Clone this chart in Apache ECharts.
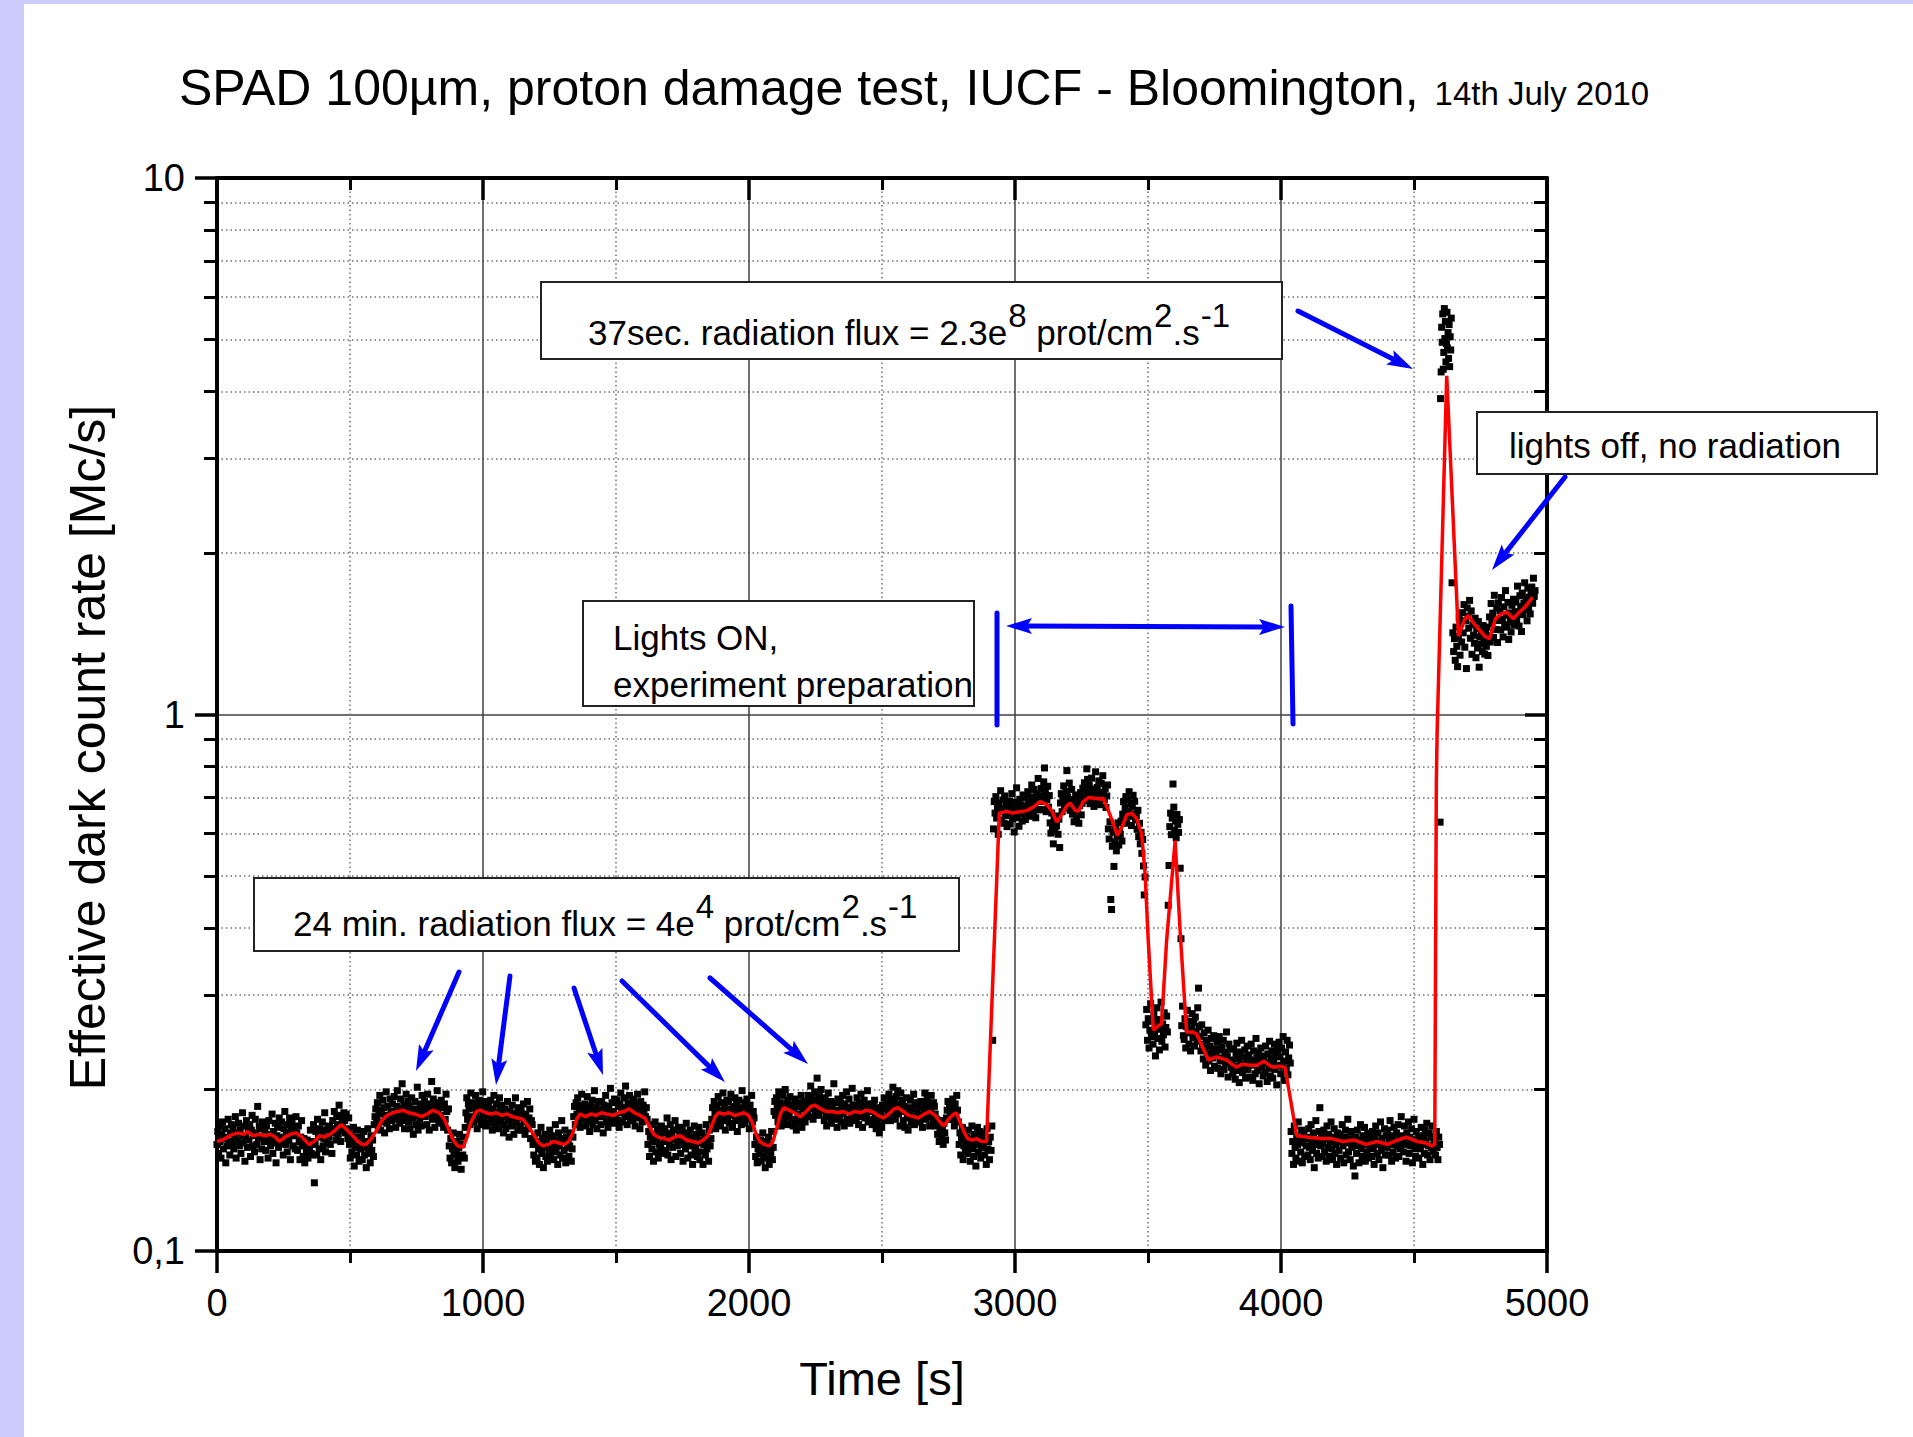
<!DOCTYPE html>
<html>
<head>
<meta charset="utf-8">
<title>SPAD 100µm proton damage test</title>
<script src="https://cdn.jsdelivr.net/npm/echarts@6/dist/echarts.min.js"></script>
<style>
html,body{margin:0;padding:0;background:#fff;}
#chart{width:1913px;height:1437px;}
</style>
</head>
<body>
<div id="chart"></div>
<script>
// ================= DATA =================
// Acquisition blocks: first sample time [s] and sample step [s]
const blockStartSec = [0, 2916, 4038, 4598, 4643];
const blockStepSec  = [3, 3, 3, 2, 3];

// Effective dark count rate, in kc/s (divide by 1000 for Mc/s)
const rateA_kcps = [ // 0 .. 2913 s
158,167,152,171,160,149,165,174,155,162,169,146,163,157,176,160,151,166,172,159,
170,155,162,178,149,166,160,173,157,168,152,164,181,159,171,147,163,175,156,167,
161,172,150,168,179,157,164,153,176,166,158,186,162,171,148,169,155,174,163,160,
168,154,171,160,149,175,165,157,162,180,152,167,159,173,146,164,170,156,177,161,
159,174,163,151,169,182,158,166,153,172,161,177,148,167,175,157,164,170,155,178,
166,154,171,160,148,163,175,157,150,162,146,158,153,161,149,160,155,168,152,151,
160,172,134,158,167,151,176,163,155,169,148,165,174,157,162,181,153,168,159,171,
163,170,158,167,152,175,166,182,169,161,178,172,165,187,170,160,179,174,168,181,
175,166,180,169,162,177,158,149,165,153,161,170,144,157,163,151,168,156,147,162,
155,163,148,159,167,151,156,143,160,169,152,158,146,164,154,161,150,172,178,184,
176,189,171,183,195,168,180,174,191,185,166,179,198,173,186,177,169,192,182,175,
188,176,194,181,170,186,199,178,184,173,192,180,205,175,187,169,183,196,179,190,
174,186,169,181,193,177,165,184,190,172,179,202,168,183,176,188,171,195,180,185,
190,178,185,172,196,183,168,188,181,207,176,192,184,170,189,178,199,182,174,187,
179,191,173,185,170,188,176,196,182,168,184,157,149,162,146,155,166,151,143,158,
153,160,147,156,165,150,142,158,151,163,149,170,181,193,176,188,184,172,197,185,
178,189,174,186,195,181,169,184,191,176,187,172,183,198,180,175,190,171,185,179,
186,173,182,191,177,168,184,195,179,172,188,176,181,169,193,183,174,187,178,166,
172,184,169,179,190,175,163,182,176,171,187,180,165,178,193,173,181,168,185,177,
171,183,168,179,188,174,165,180,176,190,169,177,184,162,175,172,158,151,163,147,
160,149,166,155,145,158,170,152,162,143,156,165,150,159,147,163,154,168,151,157,
155,164,148,161,172,153,158,145,166,157,151,162,175,149,160,154,168,146,163,156,
161,150,157,166,147,155,163,178,186,172,189,180,193,175,184,170,187,196,179,183,
176,188,171,183,194,174,180,167,186,177,191,172,182,199,175,185,169,181,190,178,
184,172,190,178,166,187,181,195,174,183,170,186,179,201,176,189,173,182,192,177,
179,191,175,186,170,188,197,181,174,185,193,178,203,184,172,189,180,195,176,187,
186,175,192,180,171,188,183,196,177,184,169,190,179,174,187,182,198,178,185,176,
158,167,150,163,172,155,160,147,165,174,153,161,169,149,158,164,156,171,152,166,
160,169,154,166,177,151,163,158,172,148,165,156,168,161,175,150,162,157,170,159,
165,152,160,170,147,158,166,155,173,162,149,164,157,168,151,160,145,163,171,154,
156,165,150,161,170,148,159,153,166,145,158,163,151,172,155,160,147,168,157,162,
176,185,172,190,181,169,187,178,194,174,183,171,189,180,197,175,186,168,182,191,
178,190,173,184,196,179,170,186,182,193,175,188,167,183,191,177,185,172,199,180,
184,173,189,178,192,176,183,169,187,180,195,174,182,177,158,150,163,146,155,160,
152,161,147,157,166,150,155,143,160,154,149,163,145,158,152,167,148,156,182,190,
179,193,185,174,198,182,189,171,187,195,180,176,200,186,172,191,183,178,194,185,
176,187,171,183,192,175,168,186,180,173,189,178,195,170,184,177,190,174,181,186,
182,195,178,190,203,184,193,176,188,198,181,191,210,185,179,194,187,200,183,192,
186,175,193,180,171,188,197,178,184,190,173,185,179,205,176,189,181,170,192,183,
179,190,174,186,195,180,171,188,183,198,176,185,192,173,184,178,201,187,175,182,
187,176,193,181,172,189,178,196,184,170,186,191,177,185,180,199,174,188,182,175,
183,172,188,176,191,180,169,185,174,171,166,178,182,170,187,177,193,175,184,189,
190,179,196,184,175,192,187,202,181,189,176,194,185,199,180,188,171,197,183,191,
175,186,170,182,193,177,168,185,180,191,173,184,178,196,172,187,176,181,189,174,
185,174,190,179,170,187,182,197,176,184,192,178,188,171,183,195,180,175,189,186,
180,171,176,165,172,160,168,175,163,170,158,173,166,161,177,183,190,176,187,181,
185,176,192,180,171,188,179,195,183,174,158,166,151,162,170,148,157,165,153,160,
163,152,168,157,147,161,171,155,150,165,158,144,162,170,153,159,167,149,156,164,
158,166,151,162,145,169,155,160,148,163,154,171
];
const rateB_kcps = [ // 2916 .. 4035 s (lights on / preparation)
247,612,688,655,703,641,672,598,684,659,721,636,667,693,627,705,650,679,618,662,
648,690,625,671,712,639,663,604,686,657,730,642,668,619,695,653,677,633,708,660,
671,637,699,655,718,684,646,702,667,739,690,658,725,676,642,711,693,760,664,706,
688,728,665,702,749,795,717,659,694,735,672,706,628,601,655,617,574,642,609,633,
620,647,598,638,565,684,712,659,697,736,670,688,719,786,702,678,745,663,694,725,
652,689,631,670,708,642,661,694,627,676,715,650,683,729,702,746,691,723,792,757,
705,738,682,719,761,695,726,674,710,782,688,731,703,752,679,716,744,697,769,712,
694,728,671,705,739,612,586,631,452,433,568,603,521,579,616,557,594,628,571,606,
598,633,581,652,688,641,670,703,627,695,659,718,646,682,621,674,707,653,689,636,
648,611,663,592,627,574,603,551,585,522,461,498,264,282,247,271,239,258,289,251,
268,243,276,255,231,262,284,249,270,237,259,291,246,265,253,278,240,261,274,256,
441,523,618,655,597,641,742,672,608,633,589,651,624,603,637,517,382,263,286,252,
248,271,239,262,281,255,243,268,236,259,277,250,266,241,273,257,246,284,309,262,
251,236,264,243,228,255,239,222,247,233,258,226,241,217,249,235,229,252,221,238,
233,245,219,237,251,226,214,240,229,247,218,235,224,256,231,211,243,227,238,220,
226,214,238,221,209,232,244,217,228,206,235,223,247,215,230,219,237,210,226,241,
218,232,211,227,243,222,208,236,225,214,249,229,217,234,205,226,239,220,231,212,
228,215,241,224,207,233,219,246,212,229,236,210,225,243,218,231,204,237,222,245,
230,214,239,221,251,226,208,235,219,247,213,229,242,224
];
const rateC_kcps = [ // 4038 .. 4596 s (back to dark)
167,152,160,145,171,156,149,163,158,174,147,161,153,168,146,159,165,150,162,157,
163,151,169,156,148,172,160,154,166,143,158,175,152,161,149,167,185,157,164,150,
159,168,153,162,147,171,156,165,150,160,174,155,148,163,169,152,158,145,166,161,
154,165,149,160,172,157,146,163,168,151,159,176,153,162,148,167,156,161,144,158,
138,163,152,168,157,146,161,172,155,150,164,158,170,147,160,153,166,149,162,156,
161,150,167,155,145,163,171,158,152,166,148,160,174,154,162,143,157,169,151,164,
156,168,151,162,175,158,147,164,153,170,160,149,166,157,172,150,163,155,178,159,
164,153,171,158,147,166,160,174,152,163,157,169,146,161,176,155,150,167,158,162,
149,162,155,170,158,145,164,152,168,160,173,151,157,166,148,163,156,171,153,160,
162,151,167,156,148,163,158
];
const rateD_kcps = [ // 4598 .. 4640 s (37 s high flux)
630,3880,4350,5270,4940,5580,4400,4730,5710,5020,5400,4540,4910,5620,4820,5150,4610,5330,4450,5060,4780,5480
];
const rateE_kcps = [ // 4643 .. 4955 s (lights off, no radiation)
1760,1420,1310,1385,1262,1455,1340,1228,1398,1512,1290,1476,1365,1548,1420,1603,1335,1495,1218,1580,
1525,1448,1632,1387,1560,1295,1470,1405,1358,1512,1276,1444,1330,1490,1225,1395,1352,1428,1310,1465,
1372,1296,1418,1340,1455,1288,1402,1520,1365,1610,1478,1545,1392,1668,1503,1440,1580,1362,1615,1497,
1560,1438,1652,1505,1395,1587,1470,1702,1532,1455,1618,1380,1546,1490,1425,1598,1512,1640,1468,1555,
1620,1503,1735,1548,1462,1665,1590,1428,1684,1535,1612,1760,1570,1648,1495,1720,1582,1655,1540,1695,
1728,1612,1795,1660,1702
];

// Smoothed curve (red), [time s, rate Mc/s]
const smoothCurve = [
[0,0.160],[20,0.161],[40,0.163],[60,0.165],[80,0.166],[100,0.165],[115,0.167],[135,0.164],[160,0.165],[180,0.164],
[200,0.165],[220,0.163],[235,0.160],[255,0.163],[275,0.165],[298,0.166],[320,0.163],[345,0.158],[365,0.160],[385,0.164],
[405,0.163],[425,0.165],[445,0.168],[466,0.172],[485,0.169],[505,0.165],[525,0.161],[545,0.158],[560,0.158],[580,0.162],
[600,0.168],[620,0.175],[640,0.179],[660,0.181],[680,0.182],[700,0.183],[720,0.181],[745,0.180],[770,0.178],[790,0.180],
[812,0.183],[835,0.181],[855,0.176],[870,0.169],[888,0.161],[905,0.157],[925,0.156],[940,0.163],[955,0.174],[975,0.182],
[990,0.183],[1010,0.181],[1030,0.180],[1050,0.181],[1070,0.179],[1090,0.180],[1110,0.178],[1130,0.177],[1150,0.176],[1170,0.171],
[1190,0.165],[1210,0.159],[1225,0.157],[1245,0.158],[1265,0.160],[1285,0.159],[1305,0.158],[1322,0.160],[1338,0.166],[1352,0.176],
[1365,0.180],[1385,0.178],[1405,0.180],[1425,0.179],[1445,0.181],[1465,0.180],[1490,0.179],[1510,0.181],[1530,0.182],[1549,0.184],
[1570,0.181],[1590,0.179],[1608,0.177],[1625,0.171],[1642,0.165],[1658,0.163],[1680,0.162],[1700,0.161],[1720,0.163],[1742,0.164],
[1765,0.161],[1790,0.160],[1809,0.159],[1828,0.161],[1845,0.164],[1860,0.171],[1873,0.178],[1885,0.181],[1905,0.180],[1925,0.181],
[1945,0.179],[1965,0.180],[1980,0.181],[1998,0.179],[2012,0.174],[2025,0.166],[2040,0.160],[2058,0.158],[2077,0.157],[2090,0.160],
[2105,0.170],[2118,0.180],[2130,0.185],[2150,0.183],[2170,0.181],[2194,0.178],[2215,0.182],[2233,0.186],[2248,0.187],[2270,0.184],
[2290,0.182],[2312,0.182],[2335,0.181],[2355,0.182],[2375,0.180],[2398,0.182],[2420,0.181],[2440,0.183],[2463,0.182],[2485,0.179],
[2506,0.177],[2525,0.180],[2545,0.184],[2560,0.185],[2580,0.182],[2600,0.179],[2620,0.178],[2636,0.177],[2660,0.180],[2679,0.182],
[2700,0.179],[2718,0.174],[2733,0.171],[2750,0.176],[2770,0.180],[2780,0.181],[2795,0.173],[2810,0.166],[2822,0.162],[2840,0.161],
[2855,0.162],[2875,0.160],[2893,0.160],
[2941,0.655],[2969,0.660],[2990,0.655],[3012,0.658],[3044,0.662],[3069,0.672],[3094,0.688],[3119,0.680],[3138,0.662],[3157,0.630],
[3175,0.650],[3194,0.675],[3207,0.684],[3226,0.663],[3238,0.660],[3257,0.688],[3276,0.700],[3300,0.698],[3318,0.696],[3332,0.698],
[3351,0.662],[3370,0.625],[3385,0.595],[3401,0.615],[3420,0.650],[3439,0.655],[3457,0.640],[3476,0.600],[3489,0.505],[3501,0.379],
[3520,0.258],[3535,0.262],[3551,0.265],[3570,0.379],[3602,0.582],[3620,0.400],[3645,0.256],[3665,0.256],[3683,0.254],[3705,0.240],
[3727,0.227],[3758,0.230],[3796,0.227],[3815,0.223],[3833,0.220],[3855,0.223],[3883,0.222],[3910,0.222],[3936,0.226],[3955,0.222],
[3971,0.220],[3995,0.221],[4015,0.220],[4059,0.164],[4103,0.163],[4147,0.162],[4190,0.162],[4233,0.160],[4276,0.161],[4319,0.158],
[4362,0.160],[4400,0.158],[4437,0.161],[4470,0.163],[4513,0.160],[4545,0.159],[4567,0.157],[4578,0.158],[4584,0.75],[4587,0.93],
[4623,4.28],[4667,1.40],[4689,1.50],[4704,1.53],[4726,1.476],[4748,1.434],[4766,1.40],[4784,1.384],[4806,1.508],[4828,1.54],
[4850,1.551],[4873,1.508],[4895,1.55],[4917,1.585],[4946,1.655]
];

// Axis ticks / labels
const xTickValues = [0, 1000, 2000, 3000, 4000, 5000];
const yTickValues = [0.1, 1, 10];
const yTickText   = ['0,1', '1', '10'];

// ================= BUILD =================
const rateBlocks = [rateA_kcps, rateB_kcps, rateC_kcps, rateD_kcps, rateE_kcps];
const scatterData = [];
rateBlocks.forEach(function (arr, b) {
  arr.forEach(function (v, i) {
    scatterData.push([blockStartSec[b] + i * blockStepSec[b], v / 1000]);
  });
});

const FONT = '"Liberation Sans", Arial, Helvetica, sans-serif';
const measureCtx = document.createElement('canvas').getContext('2d');
function textWidth(s, size) {
  measureCtx.font = size + 'px "Liberation Sans", Arial, sans-serif';
  return measureCtx.measureText(s).width;
}
// Text with parts of several sizes sharing one baseline (superscripts via rise)
function richRun(x, baseline, parts) {
  const els = [];
  let cx = x;
  parts.forEach(function (p) {
    cx += (p.dx || 0);
    els.push({
      type: 'text', z: 100,
      style: {
        text: p.t, x: cx, y: baseline - (p.r || 0) - 0.3465 * p.s,
        font: p.s + 'px ' + FONT, fontSize: p.s, fontFamily: FONT,
        fill: '#000', align: 'left', textAlign: 'left', verticalAlign: 'middle', textVerticalAlign: 'middle'
      }
    });
    cx += textWidth(p.t, p.s);
  });
  return els;
}
function box(x, y, w, h) {
  return { type: 'rect', z: 100, shape: { x: x, y: y, width: w, height: h },
           style: { fill: '#fff', stroke: '#222', lineWidth: 2 } };
}
const BLUE = '#0000ff';
function arrowHead(x1, y1, x2, y2) {
  const L = 26, W = 8;
  const dx = x2 - x1, dy = y2 - y1, d = Math.hypot(dx, dy), ux = dx / d, uy = dy / d;
  const bx = x2 - ux * L, by = y2 - uy * L;
  return { type: 'polygon', z: 101,
    shape: { points: [[x2, y2], [bx - uy * W, by + ux * W], [bx + ux * 5, by + uy * 5], [bx + uy * W, by - ux * W]] },
    style: { fill: BLUE } };
}
function arrow(x1, y1, x2, y2) {
  const dx = x2 - x1, dy = y2 - y1, d = Math.hypot(dx, dy);
  const ex = x2 - dx / d * 18, ey = y2 - dy / d * 18;
  return [
    { type: 'line', z: 101, shape: { x1: x1, y1: y1, x2: ex, y2: ey }, style: { stroke: BLUE, lineWidth: 5, lineCap: 'round' } },
    arrowHead(x1, y1, x2, y2)
  ];
}
function bar(x1, y1, x2, y2) {
  return { type: 'line', z: 101, shape: { x1: x1, y1: y1, x2: x2, y2: y2 }, style: { stroke: BLUE, lineWidth: 5, lineCap: 'round' } };
}

let graphics = [
  { type: 'rect', z: 0, shape: { x: 0, y: 0, width: 24, height: 1437 }, style: { fill: '#ccccff' } },
  { type: 'rect', z: 0, shape: { x: 0, y: 0, width: 1913, height: 4 }, style: { fill: '#ccccff' } }
];
// Title
graphics = graphics.concat(richRun(179, 105, [
  { t: 'SPAD 100µm, proton damage test, IUCF - Bloomington,', s: 50 },
  { t: '14th July 2010', s: 33, dx: 16 }
]));
// Box: 37 s high flux
graphics.push(box(541, 282, 741, 77));
graphics = graphics.concat(richRun(588, 345, [
  { t: '37sec. radiation flux = 2.3e', s: 35 }, { t: '8', s: 33, r: 18, dx: 1 },
  { t: ' prot/cm', s: 35, dx: 0 }, { t: '2', s: 33, r: 18, dx: 1 },
  { t: '.s', s: 35, dx: 0 }, { t: '-1', s: 33, r: 18, dx: 1 }
]));
// Box: Lights ON
graphics.push(box(583, 601, 391, 105));
graphics = graphics.concat(richRun(613, 650, [{ t: 'Lights ON,', s: 35 }]));
graphics = graphics.concat(richRun(613, 697, [{ t: 'experiment preparation', s: 35 }]));
// Box: lights off
graphics.push(box(1477, 412, 400, 62));
graphics = graphics.concat(richRun(1509, 458, [{ t: 'lights off, no radiation', s: 35 }]));
// Box: 24 min low flux
graphics.push(box(254, 878, 705, 73));
graphics = graphics.concat(richRun(293, 936, [
  { t: '24 min. radiation flux = 4e', s: 35 }, { t: '4', s: 33, r: 18, dx: 1 },
  { t: ' prot/cm', s: 35, dx: 0 }, { t: '2', s: 33, r: 18, dx: 1 },
  { t: '.s', s: 35, dx: 0 }, { t: '-1', s: 33, r: 18, dx: 1 }
]));
// Arrows
graphics = graphics.concat(
  arrow(459, 972, 416, 1071),
  arrow(510, 976, 496, 1085),
  arrow(574, 988, 603, 1075),
  arrow(622, 981, 725, 1082),
  arrow(710, 978, 808, 1064),
  arrow(1298, 311, 1413, 369),
  arrow(1565, 477, 1492, 570)
);
// Double arrow + bars for "Lights ON" period
graphics.push({ type: 'line', z: 101, shape: { x1: 1024, y1: 626, x2: 1267, y2: 627 }, style: { stroke: BLUE, lineWidth: 5 } });
graphics.push(arrowHead(1285, 627, 1006, 626));
graphics.push(arrowHead(1006, 626, 1285, 627));
graphics.push(bar(997, 613, 997, 725));
graphics.push(bar(1291, 606, 1293, 724));

const solidGrid = { color: '#404040', width: 1.5, type: 'solid' };
const dotGrid = { color: '#707070', width: 1.5, type: [1.5, 3] };
const tickStyle = { color: '#000', width: 3.5 };

function xAxisBase(pos) {
  return {
    type: 'value', min: 0, max: 5000, interval: 1000, position: pos,
    axisLine: { show: true, onZero: false, lineStyle: { color: '#000', width: 4 } },
    axisTick: { show: true, inside: pos === 'top', length: 22, lineStyle: tickStyle },
    minorTick: { show: true, splitNumber: 2, length: 12, lineStyle: { color: '#000', width: 3 } }
  };
}
function yAxisBase(pos) {
  return {
    type: 'log', logBase: 10, min: 0.1, max: 10, position: pos,
    axisLine: { show: true, onZero: false, lineStyle: { color: '#000', width: 4 } },
    axisTick: { show: true, inside: pos === 'right', length: 22, lineStyle: tickStyle },
    minorTick: { show: true, splitNumber: 9, length: 13, lineStyle: { color: '#000', width: 3 } }
  };
}

const xBottom = Object.assign(xAxisBase('bottom'), {
  axisLabel: { show: true, margin: 33, fontSize: 38, color: '#000', fontFamily: FONT,
    formatter: function (v) { return xTickValues.indexOf(v) >= 0 ? String(v) : ''; } },
  splitLine: { show: true, lineStyle: solidGrid },
  minorSplitLine: { show: true, lineStyle: dotGrid },
  name: 'Time [s]', nameLocation: 'middle', nameGap: 104,
  nameTextStyle: { fontSize: 47, color: '#000', fontFamily: FONT }
});
const xTop = Object.assign(xAxisBase('top'), {
  axisLabel: { show: false }, splitLine: { show: false }, minorSplitLine: { show: false }
});
const yLeft = Object.assign(yAxisBase('left'), {
  axisLabel: { show: true, margin: 32, fontSize: 38, color: '#000', fontFamily: FONT,
    formatter: function (v) {
      for (let i = 0; i < yTickValues.length; i++) {
        if (Math.abs(Math.log10(v) - Math.log10(yTickValues[i])) < 1e-6) return yTickText[i];
      }
      return '';
    } },
  splitLine: { show: true, lineStyle: solidGrid },
  minorSplitLine: { show: true, lineStyle: dotGrid },
  name: 'Effective dark count rate [Mc/s]', nameLocation: 'middle', nameGap: 104, nameRotate: 90,
  nameTextStyle: { fontSize: 50, color: '#000', fontFamily: FONT, padding: [0, 66, 0, 0] }
});
const yRight = Object.assign(yAxisBase('right'), {
  axisLabel: { show: false }, splitLine: { show: false }, minorSplitLine: { show: false }
});

const chart = echarts.init(document.getElementById('chart'), null, { renderer: 'svg', width: 1913, height: 1437 });
chart.setOption({
  animation: false,
  backgroundColor: '#fff',
  grid: { left: 217, top: 178, width: 1330, height: 1073, containLabel: false },
  xAxis: [xBottom, xTop],
  yAxis: [yLeft, yRight],
  series: [
    { type: 'scatter', xAxisIndex: 0, yAxisIndex: 0, data: scatterData, symbol: 'rect', symbolSize: 7,
      itemStyle: { color: '#000', opacity: 1 }, silent: true, z: 2 },
    { type: 'line', xAxisIndex: 0, yAxisIndex: 0, data: smoothCurve, symbol: 'none', showSymbol: false,
      lineStyle: { color: '#ff0000', width: 3.5 }, silent: true, z: 3 }
  ],
  graphic: { elements: graphics }
});
</script>
</body>
</html>
